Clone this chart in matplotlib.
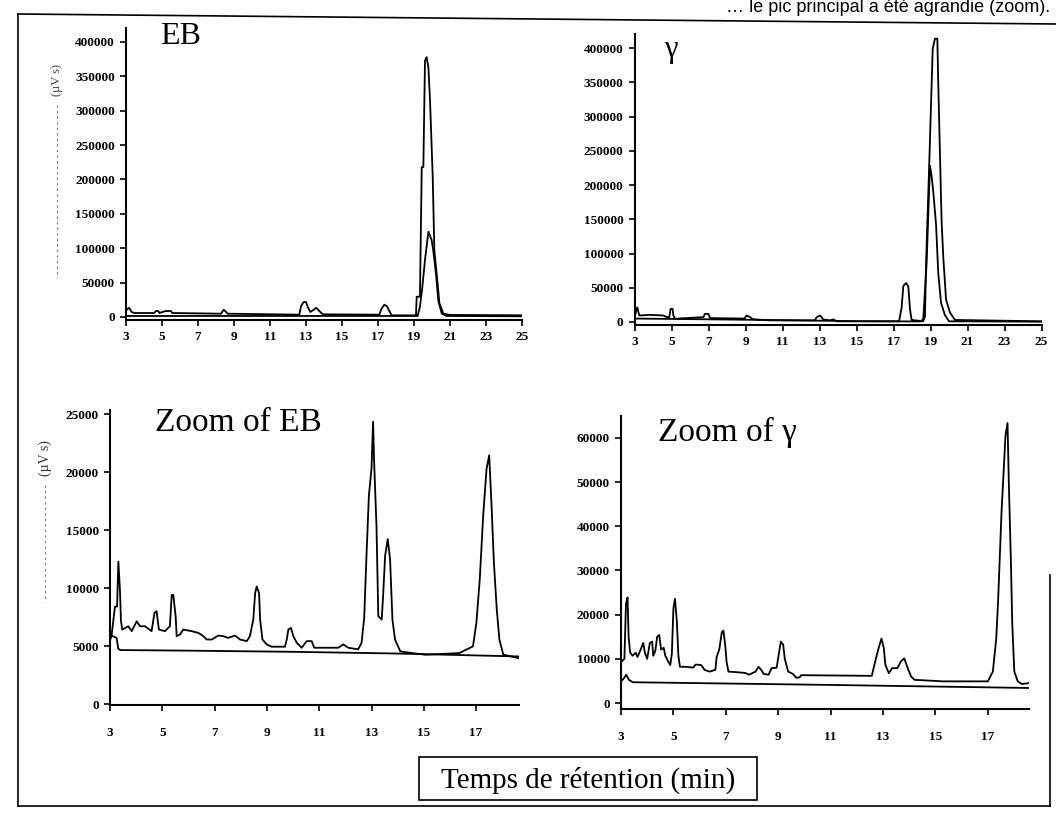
import matplotlib
matplotlib.use("Agg")
import matplotlib.pyplot as plt
from matplotlib.lines import Line2D
from matplotlib.patches import Rectangle

# ---------------- data (retention time in min, signal in µV s) ----------------
EB_main_t = [3.0, 3.05, 3.18, 3.31, 3.46, 4.57, 4.66, 4.80, 4.85, 5.2, 5.5, 5.57,
             8.28, 8.43, 8.56, 8.65, 12.63, 12.72, 12.87, 13.0, 13.1, 13.24, 13.43,
             13.56, 13.74, 13.93, 17.07, 17.2, 17.35, 17.5, 17.63, 17.76, 19.11,
             19.15, 19.33, 19.43, 19.52, 19.61, 19.70, 19.80, 19.89, 20.04, 20.13,
             20.26, 20.41, 20.63, 21.0, 25.0]
EB_main_y = [10600, 10600, 13500, 7300, 5800, 5800, 8700, 8700, 5800, 8700, 8700, 5800,
             4800, 10600, 7300, 4800, 3400, 15500, 21800, 21800, 14500, 7300, 10600,
             13500, 8700, 3900, 3400, 12100, 17900, 15500, 8700, 2400, 2400,
             29500, 29500, 218000, 218000, 373000, 378000, 363000, 315000, 204000, 97000,
             63000, 20000, 5000, 3000, 2500]
EB_inner_t = [3.0, 19.2, 19.33, 19.45, 19.61, 19.8, 19.98, 20.07, 20.22, 20.35, 20.54, 20.8, 25.0]
EB_inner_y = [1500, 1500, 15000, 40000, 83000, 124000, 112000, 97000, 63000, 24000, 5000, 1500, 1000]

G_main_t = [3.0, 3.03, 3.15, 3.26, 3.84, 4.56, 4.74, 4.88, 4.95, 5.06, 5.1, 5.19,
            6.72, 6.81, 6.99, 7.08, 8.95, 9.05, 9.25, 9.4, 10.3, 12.75, 12.85, 13.03,
            13.2, 13.57, 13.75, 13.93, 17.3, 17.44, 17.53, 17.68, 17.8, 17.89, 17.98,
            18.6, 18.70, 18.76, 18.94, 19.12, 19.24, 19.37, 19.42, 19.6, 19.69, 19.84,
            20.05, 20.32, 25.0]
G_main_y = [9500, 9500, 21400, 9500, 10400, 9500, 7100, 7100, 19000, 19000, 9500, 4750,
            7100, 11900, 11900, 5700, 5000, 9500, 7100, 4000, 2400, 2400, 7100, 9500,
            3800, 2400, 3800, 1000, 1000, 21000, 52600, 57000, 52000, 19000, 3000,
            1000, 8000, 85500, 238000, 399000, 413600, 413600, 347000, 147000, 95000, 33000,
            14000, 3000, 1000]
G_inner_t = [3.0, 5.0, 10.0, 15.0, 18.5, 18.61, 18.79, 18.97, 19.05, 19.15, 19.30,
             19.42, 19.57, 19.78, 20.0, 25.0]
G_inner_y = [5000, 4500, 3000, 1200, 800, 5000, 85500, 228000, 215000, 190000, 142500,
             71000, 28000, 10000, 1000, 500]

ZEB_t = [3.0, 3.06, 3.19, 3.27, 3.32, 3.38, 3.42, 3.47, 3.70, 3.83,
         4.02, 4.15, 4.34, 4.59, 4.70, 4.78, 4.87, 5.10, 5.29, 5.36,
         5.42, 5.51, 5.55, 5.68, 5.80, 6.12, 6.38, 6.57, 6.70, 6.89,
         7.14, 7.33, 7.52, 7.78, 7.97, 8.23, 8.35, 8.48, 8.55, 8.61,
         8.70, 8.74, 8.83, 8.99, 9.18, 9.69, 9.76, 9.82, 9.92, 10.01,
         10.14, 10.33, 10.52, 10.71, 10.81, 11.73, 11.92, 12.11, 12.49, 12.62,
         12.72, 12.81, 12.90, 13.0, 13.06, 13.1, 13.19, 13.26, 13.39, 13.45,
         13.52, 13.62, 13.71, 13.80, 13.90, 14.10, 14.55, 15.07, 16.36, 16.88,
         17.01, 17.14, 17.27, 17.40, 17.50, 17.59, 17.68, 17.79, 17.89, 18.04, 18.62]
ZEB_y = [5600, 5900, 8400, 8400, 12270, 9840, 7130, 6420, 6700, 6280,
         7130, 6700, 6700, 6280, 7850, 8000, 6420, 6280, 6700, 9400,
         9400, 7560, 5850, 6000, 6420, 6280, 6130, 5850, 5560, 5560,
         5900, 5850, 5700, 5900, 5560, 5420, 5850, 7280, 9560, 10130,
         9560, 7280, 5560, 5140, 4940, 4940, 5560, 6420, 6560, 5850,
         5280, 4850, 5420, 5420, 4850, 4850, 5140, 4850, 4710, 5280,
         7420, 12900, 17980, 20300, 24330, 20870, 15370, 7570, 7280, 9600,
         12770, 14220, 12480, 7280, 5550, 4540, 4390, 4250, 4390, 4970,
         6990, 10750, 16240, 20290, 21440, 17100, 12200, 8150, 5550, 4250, 3960]
ZEB_low_t = [3.0, 3.06, 3.25, 3.32, 3.4, 6.0, 10.0, 14.0, 18.62]
ZEB_low_y = [5500, 5900, 5700, 4760, 4650, 4600, 4500, 4350, 4100]

ZG_t = [3.0, 3.13, 3.19, 3.25, 3.29, 3.35, 3.44, 3.56, 3.63, 3.75,
        3.85, 3.91, 4.0, 4.1, 4.19, 4.23, 4.31, 4.38, 4.46, 4.53,
        4.63, 4.69, 4.81, 4.88, 4.94, 5.0, 5.06, 5.13, 5.19, 5.25,
        5.5, 5.75, 5.85, 6.06, 6.19, 6.38, 6.6, 6.65, 6.75, 6.85,
        6.91, 6.98, 7.03, 7.1, 7.38, 7.75, 7.88, 8.13, 8.25, 8.35,
        8.44, 8.63, 8.75, 8.94, 9.03, 9.1, 9.19, 9.25, 9.38, 9.56,
        9.69, 9.81, 9.88, 12.57, 12.70, 12.83, 12.94, 13.03, 13.09, 13.22,
        13.35, 13.55, 13.68, 13.81, 13.94, 14.07, 14.2, 15.3, 17.0, 17.19,
        17.32, 17.39, 17.52, 17.62, 17.67, 17.75, 17.80, 17.88, 17.93, 18.01, 18.14, 18.30, 18.56]
ZG_y = [9300, 10000, 22500, 23900, 15000, 11400, 10700, 11400, 10400, 12100,
        13600, 11400, 10000, 13600, 13900, 10700, 11800, 15000, 15400, 12100,
        12500, 10700, 9300, 8600, 11100, 21400, 23600, 18600, 10700, 8200,
        8200, 8000, 8700, 8600, 7500, 7100, 7500, 10400, 12100, 16100,
        16400, 12900, 9300, 7100, 7000, 6800, 6400, 7100, 8200, 7500,
        6600, 6400, 7900, 8000, 11400, 13900, 13200, 10000, 7100, 6600,
        5700, 5800, 6300, 6150, 9400, 12400, 14600, 12400, 8600, 6750,
        7900, 7900, 9400, 10100, 7900, 6000, 5250, 4900, 4900, 7100,
        14600, 22900, 43100, 54400, 60400, 63400, 49900, 31900, 18000, 7100, 4900, 4300, 4500]
ZG_low_t = [3.0, 3.1, 3.2, 3.3, 3.45, 10.9, 18.56]
ZG_low_y = [4900, 5500, 6400, 5250, 4700, 4100, 3400]

top_xticks = [3, 5, 7, 9, 11, 13, 15, 17, 19, 21, 23, 25]
top_yticks = [0, 50000, 100000, 150000, 200000, 250000, 300000, 350000, 400000]
zeb_yticks = [0, 5000, 10000, 15000, 20000, 25000]
zg_yticks = [0, 10000, 20000, 30000, 40000, 50000, 60000]
zoom_xticks = [3, 5, 7, 9, 11, 13, 15, 17]

# ---------------- figure ----------------
W, H = 1056, 814
fig = plt.figure(figsize=(W / 100, H / 100), dpi=100)
fig.patch.set_facecolor("white")
SERIF = "Liberation Serif"


def px_axes(l, r, t, b):
    return fig.add_axes([l / W, 1 - b / H, (r - l) / W, (b - t) / H])


def style(ax, xt, yt, xlim, ylim, xpad):
    ax.set_xlim(*xlim)
    ax.set_ylim(*ylim)
    for s in ("top", "right"):
        ax.spines[s].set_visible(False)
    for s in ("left", "bottom"):
        ax.spines[s].set_linewidth(1.5)
        ax.spines[s].set_color("black")
    ax.set_xticks(xt)
    ax.set_yticks(yt)
    ax.set_xticklabels([str(v) for v in xt])
    ax.set_yticklabels([str(v) for v in yt])
    ax.tick_params(direction="out", length=4, width=1.2, pad=4, colors="black")
    for lab in ax.get_xticklabels() + ax.get_yticklabels():
        lab.set_fontfamily(SERIF)
        lab.set_fontweight("bold")
        lab.set_fontsize(9.5)
    ax.tick_params(axis="x", pad=xpad)
    ax.patch.set_alpha(0)


LW = 1.3
ax1 = px_axes(126, 522, 28, 320)
ax1.plot(EB_main_t, EB_main_y, color="black", lw=LW)
ax1.plot(EB_inner_t, EB_inner_y, color="black", lw=LW)
style(ax1, top_xticks, top_yticks, (3, 25), (-4364, 420350), 4)

ax2 = px_axes(634.5, 1041.5, 34, 325)
ax2.plot(G_main_t, G_main_y, color="black", lw=LW)
ax2.plot(G_inner_t, G_inner_y, color="black", lw=LW)
style(ax2, top_xticks, top_yticks, (3, 25), (-4380, 420450), 4)

ax3 = px_axes(110, 519, 410, 705)
ax3.plot(ZEB_t, ZEB_y, color="black", lw=LW)
ax3.plot(ZEB_low_t, ZEB_low_y, color="black", lw=LW)
style(ax3, zoom_xticks, zeb_yticks, (3, 18.64), (-86, 25346), 12)

ax4 = px_axes(621, 1029, 416, 709)
ax4.plot(ZG_t, ZG_y, color="black", lw=LW)
ax4.plot(ZG_low_t, ZG_low_y, color="black", lw=LW)
style(ax4, zoom_xticks, zg_yticks, (3, 18.57), (-1358, 64980), 12)


def ftext(x, y, s, **kw):
    fig.text(x / W, 1 - y / H, s, **kw)


# panel titles
ftext(160, 37, "EB", fontsize=23, family=SERIF, va="center", ha="left")
ftext(664, 50, "γ", fontsize=22, family=SERIF, va="center", ha="left")
ftext(155, 423, "Zoom of EB", fontsize=24, family=SERIF, va="center", ha="left")
ftext(658, 432, "Zoom of γ", fontsize=24, family=SERIF, va="center", ha="left")

# y-axis labels with dotted leaders (scan style)
ftext(57, 80, "(µV s)", fontsize=9, family=SERIF, rotation=90, va="center", ha="center", color="#444444")
fig.add_artist(Line2D([57 / W, 57 / W], [1 - 105 / H, 1 - 278 / H], color="#777777", lw=0.8, ls=(0, (2, 3))))
ftext(45, 458, "(µV s)", fontsize=10, family=SERIF, rotation=90, va="center", ha="center", color="#333333")
fig.add_artist(Line2D([45 / W, 45 / W], [1 - 485 / H, 1 - 602 / H], color="#777777", lw=0.8, ls=(0, (2, 3))))

# x-axis label box
fig.add_artist(Rectangle((419 / W, 1 - 800 / H), (757 - 419) / W, (800 - 757) / H,
                         fill=False, edgecolor="black", lw=1.2, transform=fig.transFigure))
ftext(588, 780, "Temps de rétention (min)", fontsize=21, family=SERIF, va="center", ha="center")

# outer frame of the scanned figure
def fline(x0, y0, x1, y1, lw=1.2):
    fig.add_artist(Line2D([x0 / W, x1 / W], [1 - y0 / H, 1 - y1 / H], color="black", lw=lw))

fline(18, 14, 1056, 24)
fline(18, 14, 18, 806)
fline(18, 806, 1050, 806)
fline(1050, 575, 1050, 806)

# caption fragment from the page above
ftext(1050, 7, "… le pic principal a été agrandie (zoom).", fontsize=13,
      family="Liberation Sans", va="center", ha="right")

fig.savefig("out.png", dpi=100)
